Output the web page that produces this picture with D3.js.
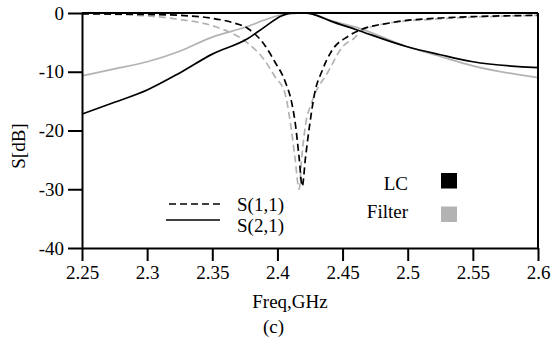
<!DOCTYPE html>
<html>
<head>
<meta charset="utf-8">
<script src="https://cdn.jsdelivr.net/npm/d3@7/dist/d3.min.js"></script>
<style>
  body { margin: 0; background: #fff; }
  svg { display: block; font-family: "Liberation Serif", "Times New Roman", serif; font-size: 19px; }
</style>
</head>
<body>
<svg class="chart" width="553" height="345"></svg>
<script>
// tick values
var xTicks = [2.25, 2.3, 2.35, 2.4, 2.45, 2.5, 2.55, 2.6];
var yTicks = [0, -10, -20, -30, -40];

// S(1,1) of the LC circuit (black dashed)
var s11LcFreq = [2.25, 2.30, 2.325, 2.35, 2.365, 2.377, 2.39, 2.398, 2.406, 2.411, 2.4137, 2.4166, 2.419, 2.4216, 2.4249, 2.4287, 2.434, 2.4415, 2.454, 2.464, 2.486, 2.525, 2.6];
var s11LcDb   = [-0.15, -0.25, -0.4, -0.9, -1.6, -2.6, -5.4, -8.3, -11.7, -15.3, -18.8, -24.5, -29.5, -24.5, -18.8, -13.5, -10, -6.5, -4.0, -2.85, -1.7, -0.85, -0.4];

// S(1,1) of the filter (grey dashed)
var s11FiltFreq = [2.25, 2.30, 2.325, 2.352, 2.377, 2.39, 2.398, 2.4057, 2.41, 2.4134, 2.4167, 2.4185, 2.4216, 2.4262, 2.4389, 2.4502, 2.4594, 2.464, 2.486, 2.525, 2.6];
var s11FiltDb   = [-0.1, -0.5, -1.1, -2.3, -5.1, -8.0, -10.8, -13.6, -18.8, -24.5, -30, -25, -19, -15.3, -10, -5.7, -4.2, -3.1, -1.7, -1.0, -0.4];

// S(2,1) of the LC circuit (black solid)
var s21LcFreq = [2.25, 2.275, 2.30, 2.325, 2.35, 2.377, 2.39, 2.403, 2.41, 2.42, 2.43, 2.44, 2.46, 2.499, 2.525, 2.55, 2.6];
var s21LcDb   = [-17.2, -15.2, -13.1, -10.2, -7.0, -4.4, -2.4, -0.5, -0.05, 0, -0.4, -1.3, -2.8, -5.7, -7.1, -8.3, -9.3];

// S(2,1) of the filter (grey solid)
var s21FiltFreq = [2.25, 2.275, 2.30, 2.325, 2.35, 2.377, 2.39, 2.403, 2.41, 2.42, 2.43, 2.44, 2.464, 2.499, 2.525, 2.55, 2.6];
var s21FiltDb   = [-10.7, -9.5, -8.3, -6.5, -4.1, -2.3, -1.2, -0.3, 0, 0, -0.4, -1.2, -2.7, -5.7, -7.4, -9.0, -11.0];

var styleNames = ["S(1,1)", "S(2,1)"];
var deviceNames = ["LC", "Filter"];

var zip = function(f, v) { return f.map(function(d, i) { return {f: d, v: v[i]}; }); };

var series = [
  {pts: zip(s11FiltFreq, s11FiltDb), color: "#b3b3b3", dash: "7,4"},
  {pts: zip(s21FiltFreq, s21FiltDb), color: "#b3b3b3", dash: null},
  {pts: zip(s11LcFreq, s11LcDb), color: "#000", dash: "7,4"},
  {pts: zip(s21LcFreq, s21LcDb), color: "#000", dash: null}
];

var pLeft = 82, pRight = 538, pTop = 13, pBottom = 248;

var chart = d3.select("svg.chart");
var xScale = d3.scaleLinear().domain([2.25, 2.6]).range([pLeft, pRight]);
var yScale = d3.scaleLinear().domain([-40, 0]).range([pBottom, pTop]);

var line = d3.line()
  .x(function(d) { return xScale(d.f); })
  .y(function(d) { return yScale(d.v); })
  .curve(d3.curveMonotoneX);

chart.selectAll("path.curve")
  .data(series)
  .enter()
  .append("path")
  .attr("class", "curve")
  .attr("d", function(d) { return line(d.pts); })
  .attr("fill", "none")
  .attr("stroke", function(d) { return d.color; })
  .attr("stroke-width", 1.7)
  .attr("stroke-dasharray", function(d) { return d.dash; });

// axes (plain hyphen for negatives, like the original)
var xAxis = d3.axisBottom(xScale).tickValues(xTicks).tickSize(13).tickSizeOuter(0).tickPadding(5)
  .tickFormat(function(d) { return String(d); });
var yAxis = d3.axisLeft(yScale).tickValues(yTicks).tickSize(14).tickSizeOuter(0).tickPadding(4)
  .tickFormat(function(d) { return String(d); });

chart.append("g").attr("id", "xAxisG").attr("transform", "translate(0," + pBottom + ")").call(xAxis);
chart.append("g").attr("id", "yAxisG").attr("transform", "translate(" + pLeft + ",0)").call(yAxis);

// drop d3's sans-serif defaults so the svg font is inherited
d3.selectAll("#xAxisG, #yAxisG").attr("font-family", null).attr("font-size", null);
d3.selectAll("#xAxisG text, #yAxisG text").attr("fill", "#000");
d3.selectAll("#xAxisG path, #xAxisG line, #yAxisG path, #yAxisG line")
  .attr("stroke", "#000").attr("stroke-width", 2);

// top and right frame
chart.append("line").attr("x1", pLeft).attr("x2", pRight).attr("y1", pTop).attr("y2", pTop)
  .attr("stroke", "#000").attr("stroke-width", 2);
chart.append("line").attr("x1", pRight).attr("x2", pRight).attr("y1", pTop).attr("y2", pBottom + 1)
  .attr("stroke", "#000").attr("stroke-width", 2);

// axis titles
chart.append("text").attr("transform", "translate(25,146) rotate(-90)")
  .attr("text-anchor", "middle").text("S[dB]");
chart.append("text").attr("x", 290).attr("y", 308)
  .attr("text-anchor", "middle").text("Freq,GHz");
chart.append("text").attr("x", 273.5).attr("y", 333)
  .attr("text-anchor", "middle").text("(c)");

// legend: line styles
var styleLeg = chart.append("g");
styleLeg.append("line").attr("x1", 169).attr("x2", 220).attr("y1", 204).attr("y2", 204)
  .attr("stroke", "#000").attr("stroke-width", 1.7).attr("stroke-dasharray", "7,4");
styleLeg.append("line").attr("x1", 166).attr("x2", 220).attr("y1", 220).attr("y2", 220)
  .attr("stroke", "#000").attr("stroke-width", 1.7);
styleLeg.selectAll("text").data(styleNames).enter().append("text")
  .attr("x", 237).attr("y", function(d, i) { return 211 + i * 21; })
  .text(function(d) { return d; });

// legend: devices
var devLeg = chart.append("g");
devLeg.selectAll("text").data(deviceNames).enter().append("text")
  .attr("x", 408).attr("y", function(d, i) { return 190 + i * 27.5; })
  .attr("text-anchor", "end")
  .text(function(d) { return d; });
devLeg.selectAll("rect").data(["#000", "#b3b3b3"]).enter().append("rect")
  .attr("x", 441).attr("y", function(d, i) { return 173 + i * 33.5; })
  .attr("width", 16).attr("height", 15.5)
  .attr("fill", function(d) { return d; });
</script>
</body>
</html>
